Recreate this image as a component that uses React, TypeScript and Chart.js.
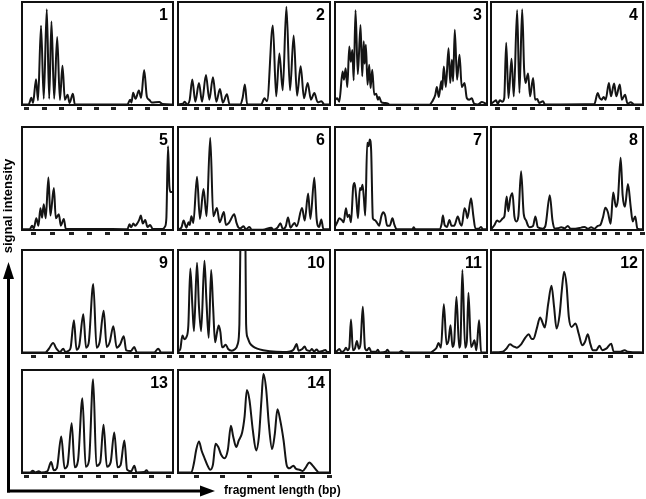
import React, { useEffect, useRef } from "react";
import { Chart, registerables } from "chart.js";

Chart.register(...registerables);

// ---- Data: each trace is a list of [fragment position %, signal %] ----
const trace1: [number, number][] = [[0,0.5],[4.4,0.5],[6.2,7],[7.3,2],[9.3,25],[10.6,4.5],[12.6,77],[14.4,6],[16.4,93],[18,6],[19.5,81],[21.3,6],[23.3,66],[25.1,5],[26.8,38],[28.4,5],[30.2,10],[31.5,2],[33.7,11],[35,0.5],[69.8,0.5],[71.6,5],[72.5,2.5],[73.6,12],[75.2,6],[77.4,14],[78.9,7],[80.9,34],[82.7,8],[84.3,5],[85.8,2.5],[90.9,3],[93,1],[100,0.5]];
const trace2: [number, number][] = [[0,0.6],[3.3,1.3],[4.4,3.2],[5.9,0.6],[7.7,5],[9.4,24.7],[11.4,3.2],[13.8,21.4],[15.8,3.2],[18.4,29.2],[20.6,5.2],[23,27],[25.2,3.2],[27.6,15.6],[29.5,2.3],[32.2,10.4],[33.9,0.6],[40.9,0.6],[42.5,6.8],[44,19.8],[45.5,0.6],[54.7,0.6],[56.9,6.5],[58.6,3.6],[62.4,77.3],[64.6,8.4],[66.7,50],[68.9,14.3],[71.3,95.5],[73.7,14.3],[76.1,67.5],[78.3,9.1],[80.7,37.7],[82.9,6.5],[85.3,21.4],[87.5,5.2],[89.7,11.7],[91.9,2.6],[94.3,3.6],[96.3,0.6],[100,0.6]];
const trace3: [number, number][] = [[0,5],[1.5,6.5],[2.8,3.2],[5,32.6],[5.9,24.5],[7,35.8],[8.1,17.4],[9.4,56.8],[10.4,42],[11.4,53.5],[12.3,24],[13.5,92],[15,30],[16.8,77.7],[17.9,28],[18.9,62],[19.5,40],[20.3,58.4],[21.4,19.7],[22.5,39],[23.4,16.5],[24.5,34.2],[25.8,10],[27.1,11],[28.2,5.2],[29,7.7],[30.6,2.6],[32.8,1.9],[34.9,1.3],[36,0.3],[62.2,0.3],[64,3.5],[66,10],[67,17.4],[68.3,7.7],[69.9,23],[70.5,14.8],[71.6,37.4],[72.9,17.4],[74.7,55],[75.8,21.3],[76.9,44],[77.7,23],[78.8,73],[80.3,24.5],[81.9,48.7],[83.4,17.4],[85.2,21.3],[86.7,6.8],[88.2,5.2],[90,6.5],[91.5,1.3],[93.9,0.6],[96.7,2.9],[100,0.6]];
const trace4: [number, number][] = [[0,1],[2.2,3.6],[3.3,4.5],[4.4,1.3],[5.9,4.5],[7.4,3.2],[8.7,6.5],[10,60.4],[11.5,6.8],[13.5,44.8],[15,8.4],[17.2,92.2],[18.7,11.7],[20.5,92.9],[21.8,34.4],[22.7,21.4],[24.4,30.5],[25.7,8.4],[27.7,26.3],[29,5.2],[30.5,5.8],[31.6,1.9],[34.2,3.6],[35.5,0.6],[68,1],[70.2,11.7],[71.5,6.8],[72.8,5.2],[74.1,7.8],[75.4,5.2],[77.6,21.4],[78.9,8.4],[81,20.8],[82.4,8.4],[84.7,19.8],[86.1,5.2],[88.2,10],[89.8,1.3],[91.9,2.6],[94.1,0.6],[100,0.6]];
const trace5: [number, number][] = [[0,0.7],[5.1,0.7],[6.7,4.2],[7.8,1.6],[9.5,11.4],[10.9,4.2],[12.2,21.2],[13.3,12],[14.4,25],[15.7,11.4],[17.5,51],[18.8,14],[21.1,40.7],[22.4,11.4],[24.4,15.3],[25.7,4.2],[27.7,10.7],[29,1],[49.9,1],[69.8,0.7],[71.2,5.5],[72.3,2.6],[73.8,6.2],[74.9,4.2],[76.5,6.8],[77.6,9.8],[78.7,14],[80,6.2],[81.6,9.8],[83.1,2.9],[84.9,4.9],[86.5,1],[93.1,1],[94.7,3.3],[95.6,11.4],[96.7,81.4],[97.6,42.3],[98.4,36.8],[100,36.8]];
const trace6: [number, number][] = [[0,0.7],[2.2,2.3],[3.7,9.2],[5.5,2.3],[7,7.5],[7.7,4.9],[8.8,13.4],[10.1,6.9],[12.5,51.8],[14.4,10.8],[16.8,39.7],[18.8,13.4],[21.2,89.5],[23.2,13.4],[25.6,21.3],[27.4,7.5],[30.2,17.4],[31.5,4.9],[33.5,6.9],[34.6,9.8],[37,15.4],[38.5,6.9],[39.8,2.3],[41.1,1.6],[43.1,3.6],[44.6,0.7],[47,3],[48.4,0.3],[55.8,0.3],[61.3,2.3],[62.8,0.3],[65.6,2.6],[67.4,6.6],[68.9,1],[70.9,3.6],[72.4,12.1],[74,2.3],[76.6,6.9],[78.1,3.6],[81.6,21.3],[83.4,9.2],[85.6,35.4],[87.1,10.8],[89.7,50.8],[91.2,10.8],[92.8,3],[94.3,10.2],[95.6,1],[100,0.7]];
const trace7: [number, number][] = [[0,3.3],[1.5,7.5],[2.8,11.4],[4.6,9.4],[5.7,7.5],[7.2,21.2],[8.3,12.7],[9.4,14.7],[10.5,7.5],[12,42.3],[12.9,45.6],[14,30.9],[15.1,11.4],[16.4,40.7],[17.2,38.8],[18.1,44],[19,30.9],[19.9,14],[21.2,84.7],[22.1,81.4],[22.9,87.9],[23.8,76.5],[24.9,11.4],[26,9.8],[27.5,7.5],[29,4.2],[30.6,14],[31.7,17.3],[33,14],[34.3,4.2],[36,4.2],[37.8,11.4],[39.1,4.9],[40.6,0.7],[50.9,0.7],[51.7,2.6],[52.8,0.7],[68.8,0.7],[70.1,5.5],[71,14],[72.1,4.9],[73.6,2.9],[75.3,9.8],[76.6,4.2],[78.4,4.2],[80.8,13],[82.3,6.2],[83.4,4.2],[85.2,21.2],[86.2,17.9],[87.1,11.4],[89.5,30.9],[91,14],[92.4,1.3],[94.5,1.3],[96.1,2.9],[97.4,0.7],[100,0.7]];
const trace8: [number, number][] = [[0,0.7],[2.2,4.6],[4,9.3],[5.5,7.9],[7.7,11.3],[8.8,13.2],[10.3,32.5],[11.4,18.2],[12.7,31.1],[14.1,35.8],[15.4,13.2],[16.7,8.3],[18,13.2],[19.8,57],[21.5,15.9],[23.1,9.3],[24.4,4],[25.5,2.6],[27.7,4],[29.2,13.2],[30.8,2.6],[34.1,1.3],[35.8,4],[38.7,33.8],[40.4,9.9],[41.8,1.3],[44,1.7],[46.2,2.6],[48.4,1.7],[50.5,4],[52.3,1.3],[55.4,1.3],[59.3,2.3],[61.5,3],[63.7,1.3],[65.9,2.6],[68.1,1.3],[70.3,4],[72.1,5.3],[73.8,13.2],[75.2,21.5],[76.9,17.2],[78.7,6],[80.4,36.4],[82.2,22.5],[83.5,29.8],[85.3,70.2],[86.6,33.8],[88.1,22.5],[90.1,44.7],[91.9,22.5],[93.2,8.3],[94.9,13.2],[96.3,1.3],[100,0.7]];
const trace9: [number, number][] = [[0,0.6],[15.5,0.6],[17.7,3.9],[20.6,9.7],[22.8,4.2],[25.1,1],[27.3,4.2],[28.8,1],[30.6,1.9],[32.2,5.2],[34.4,31.8],[36.1,3.2],[37.9,7.1],[40.6,37.7],[42.4,5.2],[44.1,9.1],[47.2,66.9],[49.4,5.2],[51.4,10.7],[54.1,40.9],[56.1,5.8],[58.1,10.7],[60.5,26],[62.7,5.2],[65,8.4],[67.4,16.2],[69,2.6],[72.1,1.9],[74.3,5.8],[76.1,0.6],[87.6,0.6],[90.2,4.2],[92.2,0.6],[100,0.6]];
const trace10: [number, number][] = [[0,1.3],[1.5,3.9],[2.9,16.9],[4.2,13.4],[5.5,15.3],[6.8,26.7],[8.1,82.1],[9.5,44.6],[10.5,21.2],[12.5,87.6],[13.8,44.6],[15.2,21.2],[17.4,89.6],[18.7,51.1],[20.2,14.7],[21.8,80.5],[23.1,44.6],[24.4,10.4],[25.7,20.2],[26.8,26.7],[27.9,20.2],[29,5.5],[30.1,6.2],[31.4,8.1],[33,3.9],[35.4,2.3],[37.4,3.6],[39.3,8.8],[40.4,28.3],[41,100],[42.6,180],[44.4,100],[44.8,28.3],[45.7,15.3],[47.3,9.4],[49.5,6.2],[52.1,4.2],[56,2.6],[60.4,1.6],[69.2,1],[73.6,1.6],[75.8,2.9],[77.4,7.2],[78,8.8],[79.3,2.3],[81.5,3.6],[83.3,6.2],[84.6,2.9],[86.8,2],[88.1,3.9],[89.5,1.6],[91.2,3.3],[92.7,1.3],[95.2,2],[96.9,2.9],[98.2,1],[100,1]];
const trace11: [number, number][] = [[0,0.6],[1.3,1.9],[2.8,3.9],[4.4,1],[6.1,2.6],[7.2,5.2],[8.3,2.6],[9.4,5.2],[10.5,32.5],[11.8,2.6],[13.1,4.2],[14.4,11.7],[15.7,4.2],[16.8,9.1],[18.3,44.8],[19.7,5.2],[21,2.6],[22.5,5.2],[23.8,1.3],[27.1,1.3],[28.2,3.2],[29.3,0.6],[33.4,1.3],[34.5,3.2],[35.8,0.6],[42.1,0.6],[43.7,1.9],[45.4,0.6],[62.9,0.6],[65.1,2.6],[66.8,5.2],[68.1,9.7],[69.7,5.2],[71.6,47.4],[73.4,8.4],[74.7,12.3],[76,26.9],[77.3,5.8],[78.4,10.7],[79.9,54.5],[81.7,5.2],[82.5,9.1],[83.8,80.5],[85.6,5.2],[86.7,10.7],[87.8,58.4],[89.5,5.8],[90.4,7.5],[91.7,12.3],[93,2.6],[94.8,31.8],[96.1,0.6],[100,0.6]];
const trace12: [number, number][] = [[0,0.6],[7.7,1.3],[9.9,3.9],[12.5,8.4],[14.7,6.5],[16.9,5.2],[19.8,8.4],[22.6,14.9],[24.8,18.2],[26.8,13.6],[27.9,13.6],[30.1,23.7],[32.3,34.4],[34.3,27.9],[35.4,24.7],[37.6,47.4],[39.8,65.3],[41.5,44.8],[43.1,23.7],[45.1,36.7],[46.6,61],[48.1,78.9],[49.7,65.9],[51.2,35.1],[53,25.3],[55.6,28.6],[57.8,18.2],[60,7.5],[61.8,10.7],[63.7,18.2],[65.3,9.1],[67,2.6],[69.2,2.6],[71.4,7.1],[73.2,2.6],[75.8,4.2],[79.1,9.1],[80.7,1.3],[85.1,1.3],[87.9,2.6],[90.1,1.3],[100,0.6]];
const trace13: [number, number][] = [[0,0.6],[5.6,0.6],[7.1,2.3],[8.7,0.6],[11.1,1.6],[12.7,0.6],[16.7,1.6],[19.3,10.6],[21.1,2.6],[23.1,4.8],[26,35.5],[28.2,4.5],[30.2,8.1],[32.9,48.4],[34.9,5.5],[37.1,12.3],[40,72.6],[42.2,6.1],[44.4,12.3],[47.1,91],[49.3,6.8],[51.8,10.3],[54,46.8],[56.2,6.1],[58.7,10.3],[61.1,39.4],[63.3,5.5],[65.3,7.7],[67.8,31.6],[69.6,3.2],[72.2,1.6],[74.4,7.1],[75.8,0.6],[81.1,1],[82.4,2.6],[83.8,0.6],[100,0.6]];
const trace14: [number, number][] = [[0,0.6],[8.8,0.6],[10.5,9.7],[12,22.6],[13.8,30.6],[15.5,21.9],[17.5,14.2],[19.3,7.7],[21.2,3.2],[23,8.1],[24.7,28.4],[26.5,25.2],[28.4,17.7],[30.6,14.2],[32.8,22.6],[34.8,45.8],[36.3,35.5],[38.3,25.2],[40,31.6],[42.2,39.4],[43.8,54.8],[45.3,80.6],[47,71],[49.2,41.9],[51.4,21.9],[53.2,34.8],[54.9,71],[56.2,96.1],[58,81.3],[59.7,48.4],[61.9,23.2],[63.7,38.1],[65.4,61.9],[67.2,51.6],[69.4,32.3],[71.6,7.1],[73.3,4.5],[75.9,7.1],[77.7,3.9],[79.9,3.2],[82.1,1.9],[84.2,5.8],[86.4,10.3],[88.6,7.1],[90.8,3.2],[92.6,0.6],[100,0.6]];

// ---- Tick positions (x %, per panel) ----
const ticks1 = [3.3, 15.1, 26.2, 38, 49.5, 60.7, 71.8, 83.3, 94.9];
const ticks2 = [4.4, 12.1, 19.7, 27.4, 35.1, 43.1, 51, 58.7, 66.3, 74, 81.6, 89.3, 96.9];
const ticks3 = [5.9, 17.9, 29.9, 41.9, 53.9, 65.9, 77.9, 90.2];
const ticks4 = [4.4, 15.7, 27.3, 38.6, 50.1, 61.4, 73, 84.5, 96.3];
const ticks5 = [7.7, 20.4, 32.7, 44.9, 56.7, 68.9, 81.1, 93.4];
const ticks6 = [4.4, 12.1, 19.7, 27.4, 34.6, 41.6, 48.8, 56.4, 63.5, 70.7, 78.4, 85.4, 92.5];
const ticks7 = [4.4, 12.6, 21.2, 29.5, 37.5, 45.8, 53.9, 62.2, 70.3, 78.6, 86.6, 95];
const ticks8 = [3.3, 11, 19.2, 27.1, 35.2, 43, 51.1, 59, 67.2, 74.9, 83, 91.4, 99.5];
const ticks9 = [7.7, 18.9, 30.4, 41.7, 53.3, 64.4, 75.5, 87.1, 97.7];
const ticks10 = [2.2, 9.5, 16.5, 23.8, 30.8, 38, 45.5, 52.7, 60, 67.5, 74.7, 82, 89.4, 96.7];
const ticks11 = [8.3, 21.8, 34.5, 47.6, 60.7, 72.7, 85.8, 98.9];
const ticks12 = [12.1, 25.3, 38.9, 52.1, 65.3, 78.7, 91.9];
const ticks13 = [3.3, 15.1, 27.1, 38.9, 50.7, 62.2, 74.4, 86, 97.3];
const ticks14 = [12.1, 29.5, 47, 64.5, 82, 99.4];

const panelLabels = ["1", "2", "3", "4", "5", "6", "7", "8", "9", "10", "11", "12", "13", "14"];
const yAxisLabel = "signal intensity";
const xAxisLabel = "fragment length (bp)";

const traces = [trace1, trace2, trace3, trace4, trace5, trace6, trace7, trace8, trace9, trace10, trace11, trace12, trace13, trace14];
const tickSets = [ticks1, ticks2, ticks3, ticks4, ticks5, ticks6, ticks7, ticks8, ticks9, ticks10, ticks11, ticks12, ticks13, ticks14];

// ---- Layout ----
const COL_LEFT = [22, 178, 335, 491];
const COL_W = [151, 152, 152, 152];
const ROW_TOP = [2, 127, 250, 370];
const BOX_H = 103;
const PAD = 2;
const TICK_LEN = 5;

const framePlugin = {
  id: "frame",
  afterDraw(chart: any) {
    const { ctx, chartArea: a } = chart;
    ctx.save();
    ctx.strokeStyle = "#111";
    ctx.lineWidth = 2;
    ctx.strokeRect(a.left, a.top, a.right - a.left, a.bottom - a.top);
    ctx.restore();
  },
};

function Panel({ index }: { index: number }) {
  const ref = useRef<HTMLCanvasElement | null>(null);
  const col = index < 12 ? index % 4 : index - 12;
  const row = Math.floor(index / 4);
  const left = COL_LEFT[col];
  const top = ROW_TOP[row];
  const w = COL_W[col];

  useEffect(() => {
    if (!ref.current) return;
    const trace = traces[index];
    const tks = tickSets[index];
    const chart = new Chart(ref.current, {
      type: "line",
      data: {
        datasets: [
          {
            data: trace.map(([x, y]) => ({ x, y })),
            borderColor: "#141414",
            borderWidth: 2,
            pointRadius: 0,
            fill: false,
            cubicInterpolationMode: "monotone",
          } as any,
        ],
      },
      options: {
        animation: false,
        responsive: false,
        devicePixelRatio: 1,
        events: [],
        layout: { padding: { left: PAD, right: PAD, top: PAD, bottom: 0 } },
        plugins: { legend: { display: false }, tooltip: { enabled: false }, title: { display: false } },
        scales: {
          x: {
            type: "linear",
            min: 0,
            max: 100,
            afterBuildTicks: (s: any) => {
              s.ticks = tks.map((v) => ({ value: v }));
            },
            ticks: { display: false },
            border: { display: false },
            grid: {
              drawOnChartArea: false,
              drawTicks: true,
              tickLength: TICK_LEN,
              tickWidth: 5,
              tickColor: "#222",
              tickBorderDash: [3, 2],
              tickBorderDashOffset: 3,
            },
          } as any,
          y: { display: false, min: 0, max: 100 },
        },
      },
      plugins: [framePlugin],
    });
    return () => chart.destroy();
  }, [index]);

  return (
    <>
      <div style={{ position: "absolute", left: left - PAD, top: top - PAD }}>
        <canvas ref={ref} width={w + 2 * PAD} height={BOX_H + PAD + TICK_LEN} style={{ display: "block" }} />
      </div>
      <div
        style={{
          position: "absolute",
          left: left,
          top: top + 5,
          width: w - 5,
          textAlign: "right",
          font: "bold 16px 'Liberation Sans', Arial, sans-serif",
          lineHeight: "16px",
          color: "#000",
        }}
      >
        {panelLabels[index]}
      </div>
    </>
  );
}

export default function App() {
  return (
    <div style={{ position: "absolute", left: 0, top: 0, width: 646, height: 499, background: "#fff", overflow: "hidden" }}>
      {panelLabels.map((_, i) => (
        <Panel key={i} index={i} />
      ))}
      <svg width={646} height={499} style={{ position: "absolute", left: 0, top: 0, pointerEvents: "none" }}>
        <line x1={8.5} y1={492.5} x2={8.5} y2={274} stroke="#000" strokeWidth={3} />
        <polygon points="8.5,262 3,279 14,279" fill="#000" />
        <line x1={7} y1={491} x2={203} y2={491} stroke="#000" strokeWidth={3} />
        <polygon points="215,491 200,485.5 200,496.5" fill="#000" />
      </svg>
      <div
        style={{
          position: "absolute",
          left: 7.5 - 70,
          top: 206 - 8,
          width: 140,
          height: 16,
          lineHeight: "16px",
          textAlign: "center",
          font: "bold 13px 'Liberation Sans', Arial, sans-serif",
          transform: "rotate(-90deg)",
          whiteSpace: "nowrap",
          color: "#000",
        }}
      >
        {yAxisLabel}
      </div>
      <div
        style={{
          position: "absolute",
          left: 224,
          top: 491 - 8,
          lineHeight: "16px",
          font: "bold 12px 'Liberation Sans', Arial, sans-serif",
          whiteSpace: "nowrap",
          color: "#000",
        }}
      >
        {xAxisLabel}
      </div>
    </div>
  );
}
